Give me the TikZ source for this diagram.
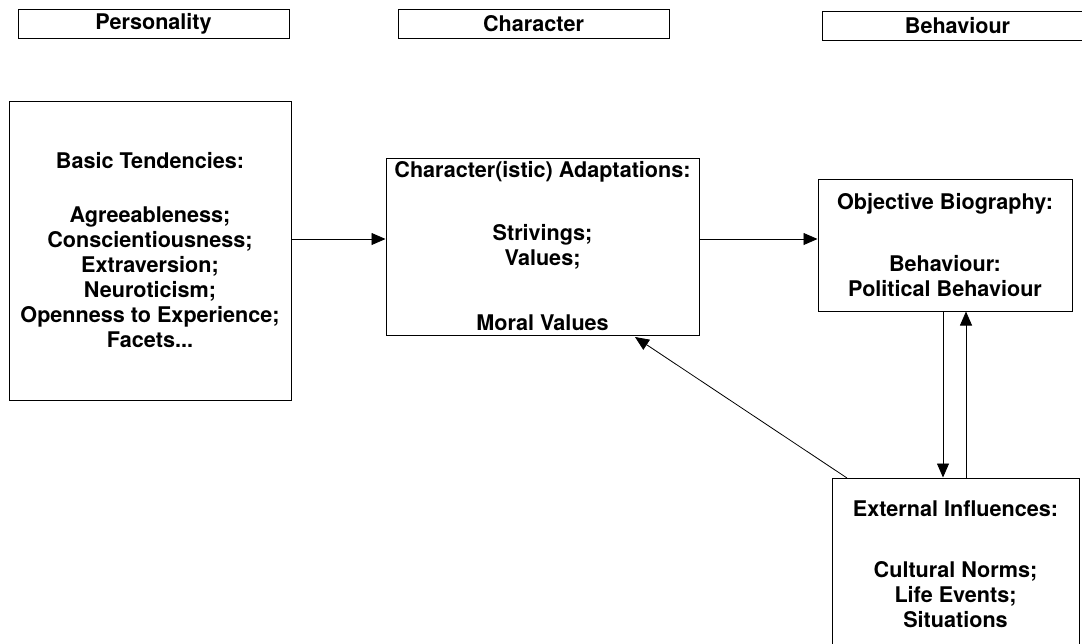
\documentclass[tikz,border=0pt]{standalone}
\usepackage{fontspec}
\setmainfont{TeX Gyre Heros}
\usetikzlibrary{arrows.meta}

\begin{document}
\begin{tikzpicture}[x=1pt,y=-1pt,
	box/.style={draw,line width=1pt,inner sep=0pt,align=center,font=\bfseries\fontsize{21.6}{25}\selectfont},
	headbox/.style={box,minimum width=271,minimum height=29},
	link/.style={line width=0.8pt,-{Triangle[length=14pt,width=12pt]}}]
	\useasboundingbox (0,0) rectangle (1082,643);

	\node[headbox] (personality) at (153.5,23.5) {Personality};
	\node[headbox] (character) at (533.5,23.5) {Character};
	\node[headbox] (behaviour) at (957.5,25.5) {Behaviour};

	\node[box,minimum width=282,minimum height=299] (basic) at (150,250.5) {Basic Tendencies:\\[29pt]
		Agreeableness;\\Conscientiousness;\\Extraversion;\\Neuroticism;\\Openness to Experience;\\Facets...};
	\node[box,minimum width=313,minimum height=177] (adapt) at (542.5,246.5) {Character(istic) Adaptations:\\[38pt]
		Strivings;\\Values;\\[40pt]Moral Values};
	\node[box,minimum width=254,minimum height=132] (biography) at (945,245) {Objective Biography:\\[37pt]
		Behaviour:\\Political Behaviour};
	\node[box,minimum width=247,minimum height=172] (external) at (955.5,564) {External Influences:\\[36pt]
		Cultural Norms;\\Life Events;\\Situations};

	\coordinate (midline) at (0,239);
	\coordinate (downx) at (943,0);
	\coordinate (upx) at (966,0);
	\coordinate (slant) at (847,478);
	\coordinate (slantend) at (635,337);

	\draw[link] (basic.east |- midline) -- (adapt.west |- midline);
	\draw[link] (adapt.east |- midline) -- (biography.west |- midline);
	\draw[link] (biography.south -| downx) -- (external.north -| downx);
	\draw[link] (external.north -| upx) -- (biography.south -| upx);
	\draw[link] (slant) -- (slantend);
\end{tikzpicture}
\end{document}
